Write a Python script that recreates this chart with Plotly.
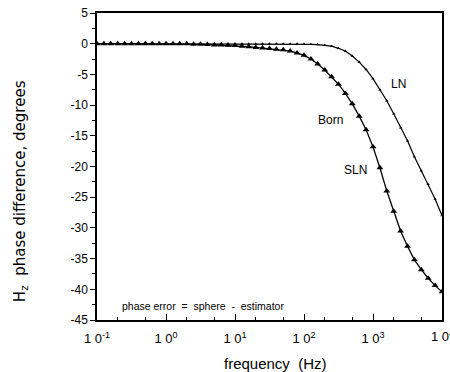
import plotly.graph_objects as go

# frequency grid (Hz), 10 points per decade from 0.1 to 10^4
freq = [0.1, 0.126, 0.158, 0.2, 0.251, 0.316, 0.398, 0.501, 0.631, 0.794,
        1.0, 1.26, 1.58, 2.0, 2.51, 3.16, 3.98, 5.01, 6.31, 7.94,
        10.0, 12.6, 15.8, 20.0, 25.1, 31.6, 39.8, 50.1, 63.1, 79.4,
        100.0, 126.0, 158.0, 200.0, 251.0, 316.0, 398.0, 501.0, 631.0, 794.0,
        1000.0, 1259.0, 1585.0, 1995.0, 2512.0, 3162.0, 3981.0, 5012.0, 6310.0, 7943.0,
        10000.0]

ln_phase = [0, 0, 0, 0, 0, 0, 0, 0, 0, 0,
            0, 0, 0, 0, 0, 0, 0, 0, 0, 0,
            0, 0, 0, 0, 0, 0, 0, 0, 0, 0,
            -0.05, -0.1, -0.15, -0.25, -0.4, -0.75, -1.2, -2.0, -3.0, -4.2,
            -5.7, -7.5, -9.3, -11.4, -13.7, -15.8, -18.4, -20.7, -22.9, -25.3,
            -28.0]

sln_phase = [0, 0, 0, 0, 0, 0, 0, 0, 0, 0,
             0, 0, 0, 0, -0.1, -0.1, -0.15, -0.2, -0.2, -0.25,
             -0.3, -0.4, -0.5, -0.6, -0.7, -0.8, -0.9, -1.0, -1.2, -1.5,
             -1.9, -2.5, -3.3, -4.3, -5.4, -6.6, -8.1, -9.8, -11.8, -14.0,
             -16.8, -20.2, -24.0, -27.3, -30.5, -33.0, -35.2, -36.8, -38.2, -39.4,
             -40.4]

born_phase = [0, 0, 0, 0, 0, 0, 0, 0, 0, 0,
              0, 0, 0, 0, -0.1, -0.1, -0.15, -0.2, -0.2, -0.25,
              -0.3, -0.4, -0.5, -0.6, -0.7, -0.8, -0.9, -1.0, -1.2, -1.5,
              -1.9, -2.5, -3.3, -4.3, -5.4, -6.6, -8.1, -9.8, -11.8, -14.0,
              -16.8, -20.2, -24.0, -27.3, -30.5, -33.0, -35.2, -36.8, -38.2, -39.4,
              -40.4]

x_tickvals = [0.1, 1, 10, 100, 1000]
x_ticktext = ["1 0<sup>-1</sup>", "1 0<sup>0</sup>", "1 0<sup>1</sup>",
              "1 0<sup>2</sup>", "1 0<sup>3</sup>"]
x_last_tick = "1 0<sup>4</sup>"
y_tickvals = [5, 0, -5, -10, -15, -20, -25, -30, -35, -40, -45]
y_ticktext = ["5", "0", "-5", "-10", "-15", "-20", "-25", "-30", "-35", "-40", "-45"]

FONT = "Liberation Sans, Arial, sans-serif"
WIDE_FONT = "DejaVu Sans, Verdana, sans-serif"

fig = go.Figure()
fig.add_trace(go.Scatter(x=freq, y=born_phase, mode="lines", name="Born",
                         line=dict(color="black", width=1.3)))
fig.add_trace(go.Scatter(x=freq, y=sln_phase, mode="markers", name="SLN",
                         marker=dict(symbol="triangle-up", color="black", size=6)))
fig.add_trace(go.Scatter(x=freq, y=ln_phase, mode="lines+markers", name="LN",
                         line=dict(color="black", width=1.2),
                         marker=dict(symbol="triangle-up", color="black", size=3)))

fig.update_xaxes(type="log", range=[-1, 4], tickvals=x_tickvals, ticktext=x_ticktext,
                 ticks="inside", ticklen=6, tickcolor="black", ticklabelstandoff=6,
                 minor=dict(ticks="inside", ticklen=3, tickcolor="black", showgrid=False),
                 showline=True, linecolor="black", linewidth=1.5, mirror=True,
                 showgrid=False, zeroline=False,
                 tickfont=dict(family=FONT, size=13, color="black"))
fig.update_yaxes(range=[-45, 5], tickvals=y_tickvals, ticktext=y_ticktext,
                 ticks="outside", ticklen=5, tickcolor="black",
                 minor=dict(dtick=2.5, tick0=0, ticks="outside", ticklen=3, tickcolor="black", showgrid=False),
                 showline=True, linecolor="black", linewidth=1.5, mirror=True,
                 showgrid=False, zeroline=False,
                 tickfont=dict(family=FONT, size=12, color="black"))

annotations = [
    dict(x=3.37, y=-6.6, xref="x", yref="y", text="LN", showarrow=False,
         font=dict(family=FONT, size=12, color="black")),
    dict(x=2.39, y=-12.4, xref="x", yref="y", text="Born", showarrow=False,
         font=dict(family=FONT, size=12, color="black")),
    dict(x=2.75, y=-20.5, xref="x", yref="y", text="SLN", showarrow=False,
         font=dict(family=FONT, size=12, color="black")),
    dict(x=-0.67, y=-42.7, xref="x", yref="y", text="phase error  =  sphere  -  estimator",
         showarrow=False, xanchor="left",
         font=dict(family=FONT, size=10.5, color="black")),
    dict(x=4, y=0, xref="x", yref="paper", text=x_last_tick, showarrow=False,
         yanchor="middle", yshift=-16,
         font=dict(family=FONT, size=13, color="black")),
    dict(x=0.516, y=-0.143, xref="paper", yref="paper", text="frequency  (Hz)",
         showarrow=False, yanchor="middle",
         font=dict(family=FONT, size=15, color="black")),
    dict(x=-0.223, y=0.42, xref="paper", yref="paper",
         text="H<sub>z</sub>  phase difference, degrees", textangle=-90,
         showarrow=False, xanchor="center", yanchor="middle",
         font=dict(family=WIDE_FONT, size=15, color="black")),
]

fig.update_layout(width=450, height=372,
                  margin=dict(l=97, r=6, t=12, b=52),
                  paper_bgcolor="white", plot_bgcolor="white",
                  showlegend=False, annotations=annotations)

fig.write_html("out.html")
